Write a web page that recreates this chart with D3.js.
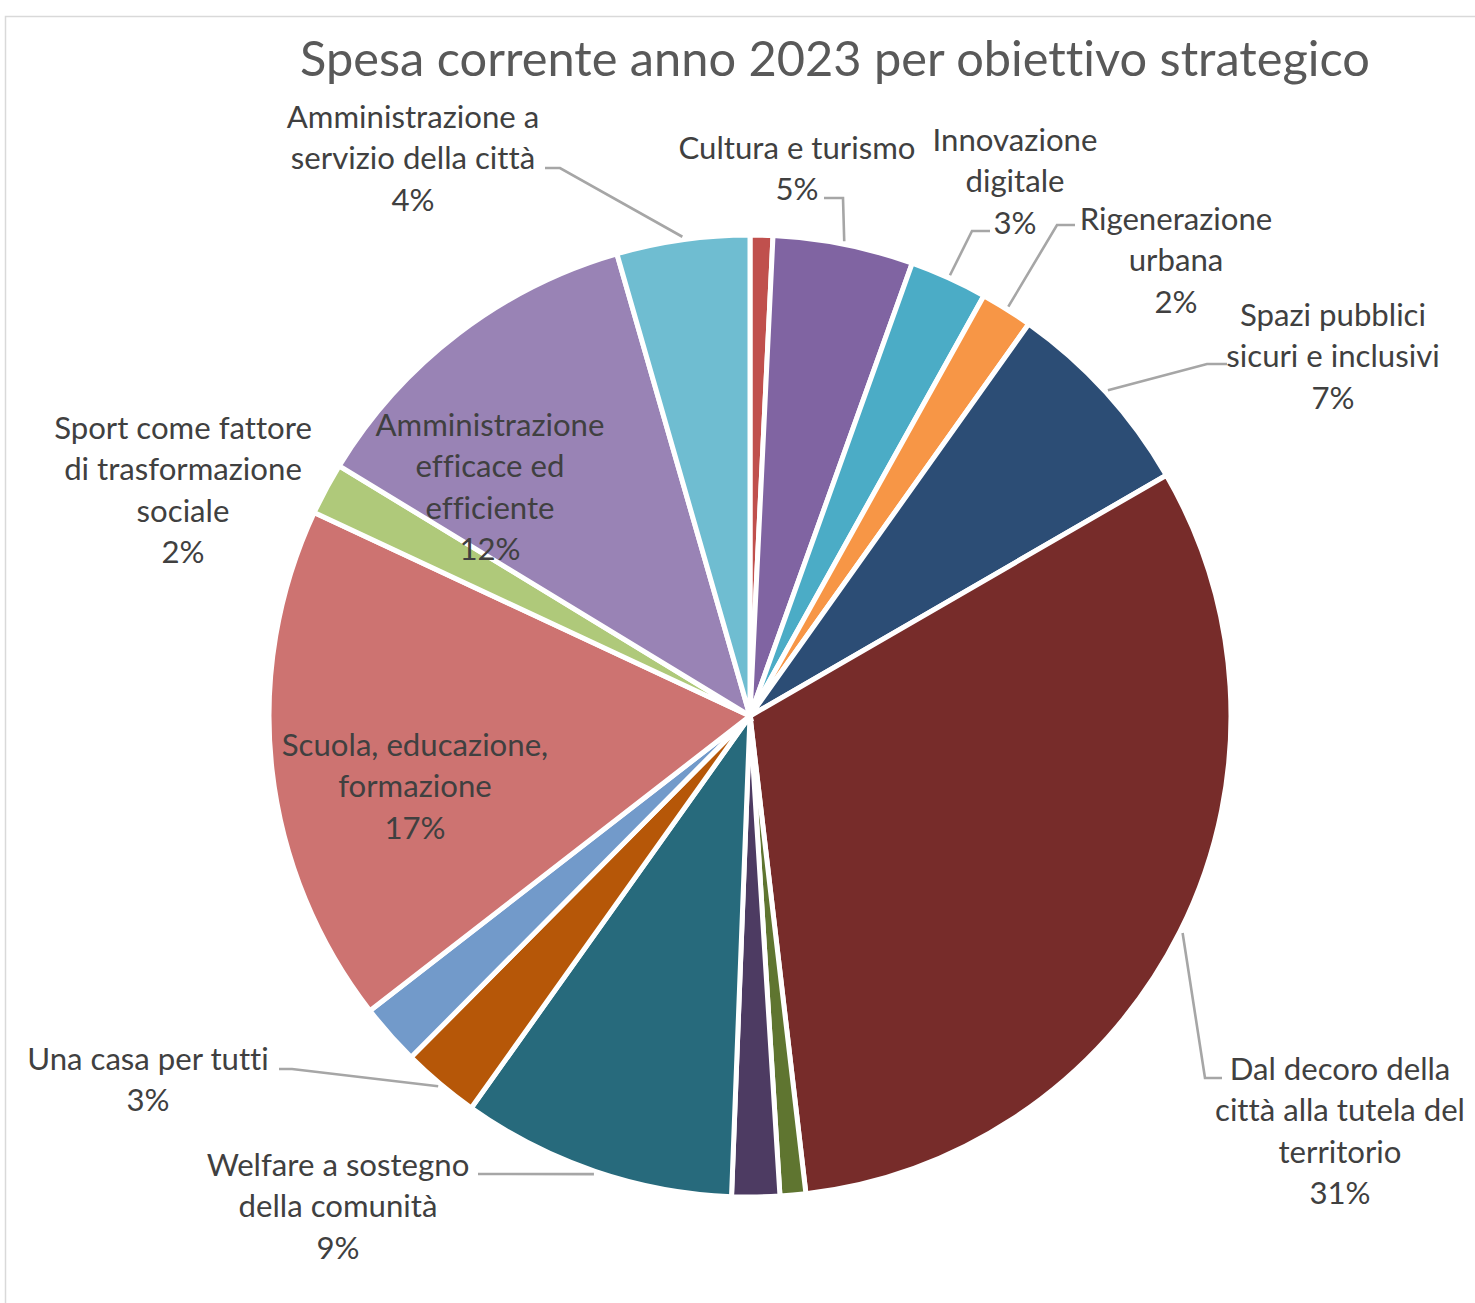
<!DOCTYPE html>
<html>
<head>
<meta charset="utf-8">
<script src="https://cdn.jsdelivr.net/npm/d3@7"></script>
<style>
  html, body { margin: 0; padding: 0; background: #fff; }
  svg { display: block; }
  text { font-variant-ligatures: none; font-feature-settings: "liga" 0, "clig" 0; }
</style>
</head>
<body>
<svg id="chart" width="1475" height="1303"></svg>
<script>
// ---------------- DATA ----------------
const title = "Spesa corrente anno 2023 per obiettivo strategico";

const categories = [
  "Obiettivo n.d. 1",
  "Cultura e turismo",
  "Innovazione digitale",
  "Rigenerazione urbana",
  "Spazi pubblici sicuri e inclusivi",
  "Dal decoro della città alla tutela del territorio",
  "Obiettivo n.d. 2",
  "Obiettivo n.d. 3",
  "Welfare a sostegno della comunità",
  "Una casa per tutti",
  "Obiettivo n.d. 4",
  "Scuola, educazione, formazione",
  "Sport come fattore di trasformazione sociale",
  "Amministrazione efficace ed efficiente",
  "Amministrazione a servizio della città"
];

// shares (percent)
const values = [0.76, 4.7, 2.6, 1.75, 6.8, 31.4, 0.86, 1.6, 9.2, 2.6, 2.05, 17.4, 1.75, 11.8, 4.45];

const colors = [
  "#C0504D", "#8064A2", "#4BACC6", "#F79646", "#2C4D75", "#772C2A",
  "#5F7530", "#4D3B62", "#276A7C", "#B65708", "#729ACA", "#CD7371",
  "#AFC97A", "#9983B5", "#6FBDD1"
];

// wrapped label lines (null = no label shown)
const labelLines = [
  null,
  ["Cultura e turismo"],
  ["Innovazione", "digitale"],
  ["Rigenerazione", "urbana"],
  ["Spazi pubblici", "sicuri e inclusivi"],
  ["Dal decoro della", "città alla tutela del", "territorio"],
  null,
  null,
  ["Welfare a sostegno", "della comunità"],
  ["Una casa per tutti"],
  null,
  ["Scuola, educazione,", "formazione"],
  ["Sport come fattore", "di trasformazione", "sociale"],
  ["Amministrazione", "efficace ed", "efficiente"],
  ["Amministrazione a", "servizio della città"]
];

// ---------------- LAYOUT ----------------
const W = 1475, H = 1303;
const cx = 750, cy = 716, R = 481;
const lineH = 41.3;
const FONT = "Lato, 'Open Sans', 'Noto Sans', sans-serif";

// label block placement: x center, y center of first line; leader: [start, knee]
const labelPos = {
  1:  {x: 797,  y: 147, leader: [[824, 198], [843, 198]]},
  2:  {x: 1015, y: 139, leader: [[990, 231], [972, 231]]},
  3:  {x: 1176, y: 218, leader: [[1075, 225], [1057, 225]]},
  4:  {x: 1333, y: 314, leader: [[1227, 364], [1207, 364]]},
  5:  {x: 1340, y: 1068, leader: [[1222, 1078], [1205, 1078]]},
  8:  {x: 338,  y: 1164, leader: [[478, 1174], [478, 1174]]},
  9:  {x: 148,  y: 1058, leader: [[279, 1069], [292, 1069]]},
  11: {x: 415,  y: 744, leader: null},
  12: {x: 183,  y: 427, leader: null},
  13: {x: 490,  y: 424, leader: null},
  14: {x: 413,  y: 116, leader: [[545, 168], [560, 168]]}
};

const svg = d3.select("#chart");

// chart area border (only top & left visible in frame)
svg.append("rect")
  .attr("x", 5.5).attr("y", 16.5)
  .attr("width", W + 40).attr("height", H + 40)
  .attr("fill", "#fff")
  .attr("stroke", "#D9D9D9").attr("stroke-width", 1.5);

// measure helper for font sizing
function measure(txt, size) {
  const t = svg.append("text").attr("font-family", FONT).attr("font-size", size).text(txt);
  const w = t.node().getComputedTextLength();
  t.remove();
  return w;
}
const titleSize = 100 * 1070 / measure(title, 100);
const labelSize = 100 * 237 / measure("Cultura e turismo", 100);

// title
svg.append("text")
  .attr("x", 835).attr("y", 57)
  .attr("text-anchor", "middle")
  .attr("dominant-baseline", "central")
  .attr("font-family", FONT)
  .attr("font-size", titleSize)
  .attr("fill", "#595959")
  .text(title);

// pie
const total = d3.sum(values);
const pie = d3.pie().sort(null).value(d => d.value)
  .startAngle(0).endAngle(2 * Math.PI);
const data = categories.map((c, i) => ({name: c, value: values[i], color: colors[i], i}));
const arcs = pie(data);
const arc = d3.arc().innerRadius(0).outerRadius(R);
const edgeArc = d3.arc().innerRadius(R + 3).outerRadius(R + 3);

const g = svg.append("g").attr("transform", `translate(${cx},${cy})`);
g.selectAll("path.slice")
  .data(arcs)
  .join("path")
  .attr("class", "slice")
  .attr("d", arc)
  .attr("fill", d => d.data.color)
  .attr("stroke", "#fff")
  .attr("stroke-width", 5)
  .attr("stroke-linejoin", "miter");

// leader lines
arcs.forEach(a => {
  const p = labelPos[a.data.i];
  if (!p || !p.leader) return;
  const [ex, ey] = edgeArc.centroid(a);
  const pts = [p.leader[0], p.leader[1], [cx + ex, cy + ey]];
  svg.append("path")
    .attr("d", d3.line()(pts))
    .attr("fill", "none")
    .attr("stroke", "#A6A6A6")
    .attr("stroke-width", 2.6);
});

// labels
arcs.forEach(a => {
  const i = a.data.i;
  const lines = labelLines[i];
  const p = labelPos[i];
  if (!lines || !p) return;
  const pct = Math.round(a.data.value / total * 100) + "%";
  const all = lines.concat([pct]);
  const t = svg.append("text")
    .attr("text-anchor", "middle")
    .attr("font-family", FONT)
    .attr("font-size", labelSize)
    .attr("fill", "#404040");
  all.forEach((ln, k) => {
    t.append("tspan")
      .attr("x", p.x)
      .attr("y", p.y + k * lineH)
      .attr("dominant-baseline", "central")
      .text(ln);
  });
});
</script>
</body>
</html>
